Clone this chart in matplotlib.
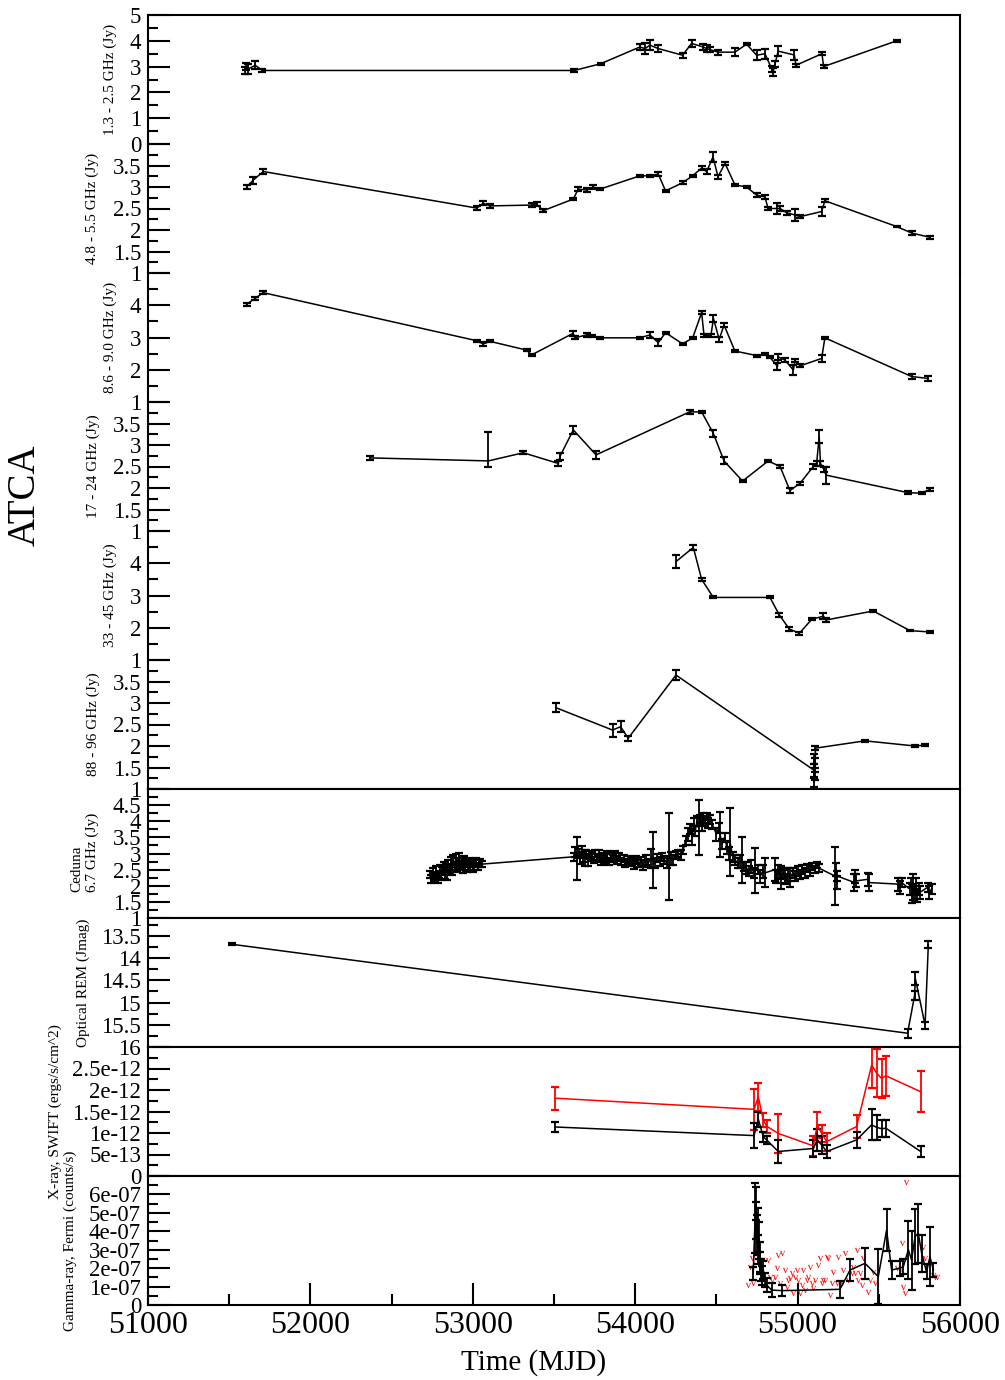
import matplotlib
matplotlib.use('Agg')
import matplotlib.pyplot as plt
from matplotlib.ticker import MultipleLocator, FixedLocator

plt.rcParams['font.family'] = ['Liberation Serif', 'DejaVu Serif']
plt.rcParams['mathtext.fontset'] = 'custom'
plt.rcParams['mathtext.rm'] = 'Liberation Serif'

# ---------------- data ----------------
# ATCA 1.3-2.5 GHz
p1_mjd = [51595, 51605, 51615, 51660, 51705, 53625, 53787, 54029, 54060, 54091, 54141, 54292, 54347,
          54418, 54440, 54460, 54510, 54614, 54686, 54748, 54799, 54840, 54850, 54861, 54880, 54980,
          54990, 55150, 55160, 55610]
p1_flux = [2.85, 3.0, 2.9, 3.05, 2.85, 2.85, 3.11, 3.76, 3.7, 3.83, 3.7, 3.44, 3.9, 3.76, 3.7, 3.66,
           3.56, 3.56, 3.87, 3.44, 3.5, 2.92, 2.8, 3.1, 3.6, 3.45, 3.05, 3.5, 3.0, 4.0]
p1_err = [0.15, 0.15, 0.2, 0.15, 0.05, 0.04, 0.04, 0.12, 0.2, 0.2, 0.15, 0.1, 0.15, 0.1, 0.12, 0.1,
          0.1, 0.15, 0.04, 0.2, 0.2, 0.12, 0.15, 0.1, 0.2, 0.2, 0.05, 0.05, 0.05, 0.03]

# ATCA 4.8-5.5 GHz
p2_mjd = [51607, 51648, 51710, 53024, 53065, 53105, 53362, 53393, 53434, 53619, 53649, 53701, 53742,
          53783, 54029, 54091, 54142, 54187, 54292, 54353, 54409, 54440, 54479, 54510, 54553, 54614,
          54686, 54748, 54799, 54818, 54871, 54892, 54933, 54984, 55015, 55148, 55168, 55610, 55702, 55815]
p2_flux = [3.0, 3.16, 3.36, 2.51, 2.62, 2.56, 2.58, 2.6, 2.45, 2.72, 2.95, 2.93, 3.0, 2.95, 3.26, 3.26,
           3.3, 2.91, 3.1, 3.26, 3.44, 3.36, 3.7, 3.24, 3.55, 3.05, 3.0, 2.81, 2.77, 2.5, 2.5, 2.5,
           2.4, 2.35, 2.31, 2.43, 2.68, 2.08, 1.93, 1.83]
p2_err = [0.05, 0.08, 0.05, 0.04, 0.05, 0.04, 0.04, 0.04, 0.03, 0.03, 0.05, 0.05, 0.04, 0.03, 0.03,
          0.03, 0.04, 0.03, 0.03, 0.03, 0.05, 0.05, 0.12, 0.05, 0.04, 0.03, 0.03, 0.04, 0.05, 0.04,
          0.12, 0.05, 0.04, 0.15, 0.04, 0.1, 0.03, 0.02, 0.05, 0.03]

# ATCA 8.6-9.0 GHz
p3_mjd = [51607, 51659, 51710, 53024, 53065, 53106, 53331, 53362, 53618, 53629, 53701, 53732, 53783,
          54029, 54091, 54142, 54187, 54292, 54354, 54409, 54424, 54466, 54482, 54517, 54547, 54614,
          54748, 54799, 54830, 54876, 54881, 54922, 54974, 54984, 55015, 55148, 55168, 55702, 55804]
p3_flux = [4.03, 4.21, 4.39, 2.9, 2.8, 2.88, 2.61, 2.46, 3.13, 2.99, 3.08, 3.05, 2.99, 2.99, 3.08, 2.84,
           3.15, 2.8, 2.99, 3.77, 3.06, 3.06, 3.59, 2.94, 3.39, 2.58, 2.44, 2.49, 2.39, 2.1, 2.4, 2.3,
           1.99, 2.28, 2.12, 2.35, 2.99, 1.79, 1.73]
p3_err = [0.05, 0.05, 0.05, 0.03, 0.05, 0.03, 0.03, 0.03, 0.08, 0.05, 0.05, 0.04, 0.03, 0.03, 0.08,
          0.1, 0.03, 0.03, 0.03, 0.05, 0.04, 0.04, 0.1, 0.08, 0.05, 0.03, 0.03, 0.04, 0.04, 0.1, 0.1,
          0.05, 0.15, 0.05, 0.05, 0.12, 0.04, 0.08, 0.08]

# ATCA 17-24 GHz
p4_mjd = [52367, 53096, 53311, 53527, 53537, 53619, 53759, 54335, 54409, 54481, 54547, 54661, 54819,
          54892, 54953, 55015, 55097, 55117, 55133, 55141, 55162, 55175, 55682, 55764, 55815]
p4_flux = [2.7, 2.63, 2.82, 2.57, 2.74, 3.35, 2.77, 3.77, 3.77, 3.27, 2.63, 2.16, 2.63, 2.5, 1.94,
           2.11, 2.5, 2.57, 3.19, 2.57, 2.43, 2.3, 1.89, 1.88, 1.97]
p4_elo = [0.05, 0.13, 0.03, 0.05, 0.08, 0.1, 0.1, 0.04, 0.03, 0.08, 0.08, 0.03, 0.03, 0.03, 0.06,
          0.03, 0.05, 0.05, 0.15, 0.05, 0.05, 0.2, 0.03, 0.03, 0.03]
p4_ehi = [0.05, 0.67, 0.03, 0.05, 0.08, 0.1, 0.1, 0.04, 0.03, 0.08, 0.08, 0.03, 0.03, 0.03, 0.06,
          0.03, 0.05, 0.05, 0.15, 0.05, 0.05, 0.2, 0.03, 0.03, 0.03]

# ATCA 33-45 GHz
p5_mjd = [54251, 54358, 54409, 54481, 54830, 54887, 54949, 55011, 55087, 55159, 55175, 55466, 55692, 55815]
p5_flux = [4.05, 4.49, 3.5, 2.94, 2.94, 2.4, 1.96, 1.83, 2.26, 2.36, 2.24, 2.52, 1.91, 1.87]
p5_err = [0.2, 0.08, 0.05, 0.03, 0.03, 0.06, 0.05, 0.04, 0.03, 0.1, 0.05, 0.02, 0.02, 0.02]

# ATCA 88-96 GHz
p6_mjd = [53512, 53861, 53910, 53957, 54251, 55100, 55102, 55104, 55106, 55108, 55110, 55415, 55723, 55785]
p6_flux = [2.89, 2.37, 2.45, 2.18, 3.65, 1.44, 1.15, 1.7, 1.3, 1.6, 1.95, 2.12, 2.0, 2.02]
p6_err = [0.1, 0.15, 0.12, 0.06, 0.12, 0.15, 0.1, 0.12, 0.1, 0.12, 0.05, 0.02, 0.03, 0.03]

# Ceduna 6.7 GHz
ced_mjd = [52736, 52745, 52752, 52760, 52768, 52775, 52783, 52790, 52798, 52805, 52812, 52820, 52828,
           52835, 52843, 52850, 52858, 52866, 52873, 52880, 52888, 52895, 52903, 52910, 52918, 52925,
           52933, 52940, 52948, 52955, 52963, 52970, 52978, 52985, 52993, 53000, 53010, 53020, 53030,
           53042, 53055,
           53625, 53632, 53644, 53652, 53660, 53670, 53680, 53690, 53700, 53712, 53722, 53735, 53745,
           53755, 53765, 53778, 53790, 53800, 53812, 53825, 53838, 53850, 53862, 53875, 53888, 53900,
           53915, 53928, 53940, 53955, 53968, 53980, 53995, 54008, 54020, 54035, 54050, 54065, 54080,
           54095, 54107, 54120, 54135, 54150, 54165, 54180, 54195, 54208, 54220, 54235, 54250, 54265,
           54280, 54295,
           54310, 54325, 54340, 54350, 54360, 54370, 54380, 54390, 54400, 54410, 54420, 54430, 54440,
           54450, 54460, 54475, 54500, 54515, 54522, 54535, 54550, 54565, 54580, 54584, 54600, 54615,
           54630, 54645, 54655, 54670, 54685, 54700, 54715, 54730, 54740, 54755, 54770, 54785, 54800,
           54860, 54870, 54880, 54890, 54900, 54910, 54920, 54930, 54940, 54955, 54970, 54985, 55000,
           55015, 55030, 55045, 55060, 55075, 55090, 55105, 55120, 55130,
           55230, 55235, 55240, 55245, 55350, 55355, 55360, 55432, 55438,
           55620, 55630, 55640, 55690, 55700, 55705, 55712, 55720, 55728, 55735, 55745, 55755,
           55800, 55812, 55825]
ced_flux = [2.35, 2.2, 2.4, 2.3, 2.25, 2.45, 2.2, 2.35, 2.5, 2.3, 2.45, 2.6, 2.4, 2.55, 2.3, 2.65,
            2.5, 2.75, 2.45, 2.8, 2.6, 2.85, 2.55, 2.7, 2.9, 2.6, 2.75, 2.5, 2.8, 2.65, 2.7, 2.55,
            2.75, 2.6, 2.7, 2.55, 2.65, 2.75, 2.6, 2.7, 2.67,
            2.9, 3.05, 2.85, 3.0, 2.8, 3.1, 2.9, 2.85, 3.0, 2.8, 2.95, 2.9, 2.8, 3.0, 2.85, 2.95, 2.8,
            2.9, 2.85, 2.95, 2.75, 2.9, 2.85, 2.95, 2.8, 2.9, 2.75, 2.85, 2.7, 2.8, 2.7, 2.75, 2.65,
            2.8, 2.7, 2.75, 2.65, 2.8, 2.7, 2.85, 2.8, 2.7, 2.85, 2.75, 2.9, 2.8, 2.7, 2.9, 2.85, 2.8,
            2.95, 3.0, 2.95, 3.1,
            3.4, 3.6, 3.75, 3.5, 3.9, 3.7, 4.0, 3.8, 4.05, 3.9, 4.1, 4.0, 4.15, 3.95, 4.05, 3.9, 3.6,
            3.8, 3.6, 3.3, 3.5, 3.2, 3.0, 3.35, 2.9, 2.8, 2.7, 2.75, 2.8, 2.6, 2.55, 2.45, 2.6, 2.4,
            2.47, 2.5, 2.3, 2.45, 2.4,
            2.5, 2.3, 2.45, 2.35, 2.25, 2.4, 2.3, 2.2, 2.35, 2.25, 2.4, 2.3, 2.45, 2.35, 2.5, 2.4, 2.55,
            2.45, 2.6, 2.5, 2.65, 2.55,
            2.3, 2.5, 2.1, 2.3, 2.1, 2.3, 2.15, 2.2, 2.1,
            2.05, 1.95, 2.1, 1.9, 2.1, 1.75, 1.95, 1.8, 2.0, 1.7, 1.9, 1.8,
            1.95, 1.8, 1.9]
ced_err = [0.12, 0.12, 0.15, 0.12, 0.12, 0.15, 0.12, 0.12, 0.15, 0.12, 0.12, 0.15, 0.18, 0.12, 0.12,
           0.15, 0.12, 0.15, 0.12, 0.15, 0.12, 0.15, 0.12, 0.15, 0.12, 0.12, 0.15, 0.12, 0.12, 0.15,
           0.12, 0.12, 0.12, 0.15, 0.12, 0.12, 0.15, 0.12, 0.12, 0.12, 0.1,
           0.12, 0.15, 0.67, 0.15, 0.12, 0.12, 0.15, 0.25, 0.12, 0.2, 0.12, 0.12, 0.1, 0.12, 0.12, 0.15,
           0.15, 0.12, 0.15, 0.12, 0.12, 0.12, 0.1, 0.12, 0.12, 0.12, 0.12, 0.1, 0.12, 0.12, 0.1, 0.12,
           0.12, 0.12, 0.12, 0.15, 0.15, 0.15, 0.12, 0.3, 0.87, 0.15, 0.12, 0.15, 0.12, 0.12, 0.15,
           1.35, 0.2, 0.15, 0.12, 0.12, 0.15, 0.12,
           0.15, 0.2, 0.15, 0.25, 0.2, 0.15, 0.15, 0.85, 0.15, 0.2, 0.15, 0.15, 0.12, 0.15, 0.15, 0.15,
           0.2, 0.15, 0.7, 0.15, 0.15, 0.2, 0.2, 1.05, 0.15, 0.15, 0.15, 0.2, 0.7, 0.15, 0.2, 0.15, 0.2,
           0.15, 0.7, 0.15, 0.2, 0.2, 0.45,
           0.35, 0.2, 0.2, 0.15, 0.35, 0.15, 0.2, 0.15, 0.2, 0.3, 0.15, 0.15, 0.15, 0.15, 0.15, 0.15,
           0.12, 0.15, 0.12, 0.12, 0.1, 0.12,
           0.9, 0.2, 0.2, 0.15, 0.25, 0.2, 0.2, 0.2, 0.25,
           0.2, 0.2, 0.15, 0.2, 0.15, 0.3, 0.4, 0.2, 0.25, 0.2, 0.2, 0.2,
           0.15, 0.2, 0.15]

# Optical REM J mag
opt_mjd = [51515, 55677, 55720, 55725, 55785, 55805]
opt_mag = [13.69, 15.69, 14.85, 14.46, 15.51, 13.7]
opt_err = [0.02, 0.1, 0.1, 0.15, 0.08, 0.08]

# X-ray SWIFT (ergs/s/cm^2)
xr_mjd = [53506, 54732, 54758, 54789, 54809, 54881, 55097, 55121, 55148, 55179, 55363, 55456, 55487,
          55517, 55544, 55758]
xr_red = [1.81e-12, 1.55e-12, 1.84e-12, 1.3e-12, 1.16e-12, 0.99e-12, 0.7e-12, 1.19e-12, 0.99e-12,
          0.8e-12, 1.15e-12, 2.58e-12, 2.39e-12, 2.27e-12, 2.33e-12, 1.96e-12]
xr_red_err = [0.27e-12, 0.47e-12, 0.33e-12, 0.17e-12, 0.15e-12, 0.45e-12, 0.23e-12, 0.3e-12, 0.2e-12,
              0.21e-12, 0.27e-12, 0.54e-12, 0.56e-12, 0.45e-12, 0.47e-12, 0.48e-12]
xr_blk = [1.14e-12, 0.94e-12, 1.32e-12, 0.91e-12, 0.84e-12, 0.57e-12, 0.64e-12, 0.84e-12, 0.72e-12,
          0.57e-12, 0.84e-12, 1.19e-12, 1.13e-12, 1.1e-12, 1.11e-12, 0.57e-12]
xr_blk_err = [0.12e-12, 0.29e-12, 0.18e-12, 0.12e-12, 0.1e-12, 0.26e-12, 0.2e-12, 0.25e-12, 0.2e-12,
              0.15e-12, 0.19e-12, 0.36e-12, 0.3e-12, 0.2e-12, 0.2e-12, 0.13e-12]

# Gamma-ray Fermi (counts/s)
g_mjd = [54727, 54738, 54742, 54746, 54750, 54754, 54758, 54762, 54766, 54770, 54775, 54780, 54789,
         54800, 54810, 54840, 54902, 55261, 55323, 55415, 55497, 55548, 55579, 55630, 55651, 55682,
         55702, 55723, 55743, 55764, 55794, 55815, 55836]
g_flux = [1.72e-7, 4.7e-7, 5.5e-7, 4.6e-7, 3.8e-7, 4.07e-7, 3.0e-7, 3.5e-7, 2.3e-7, 2.6e-7, 1.9e-7,
          1.6e-7, 1.9e-7, 1.35e-7, 1.08e-7, 0.81e-7, 0.78e-7, 0.85e-7, 1.9e-7, 2.26e-7, 1.54e-7, 4.07e-7,
          1.9e-7, 2.0e-7, 2.08e-7, 3.0e-7, 2.44e-7, 3.7e-7, 3.9e-7, 2.8e-7, 1.8e-7, 2.62e-7, 1.9e-7]
g_err = [0.36e-7, 1.9e-7, 0.9e-7, 1.0e-7, 1.1e-7, 1.2e-7, 0.8e-7, 1.0e-7, 0.6e-7, 0.8e-7, 0.6e-7,
         0.5e-7, 0.5e-7, 0.4e-7, 0.4e-7, 0.36e-7, 0.3e-7, 0.45e-7, 0.6e-7, 0.86e-7, 1.5e-7, 1.15e-7,
         0.5e-7, 0.4e-7, 0.4e-7, 1.58e-7, 1.6e-7, 1.5e-7, 1.6e-7, 1.0e-7, 0.4e-7, 1.6e-7, 0.4e-7]
ul_mjd = [54697, 54707, 54717, 54727, 54820, 54830, 54840, 54861, 54871, 54881, 54892, 54902, 54922,
          54933, 54943, 54953, 54963, 54974, 54984, 54994, 55004, 55015, 55025, 55035, 55045, 55056,
          55066, 55076, 55086, 55097, 55107, 55127, 55138, 55148, 55158, 55168, 55179, 55189, 55199,
          55209, 55220, 55240, 55250, 55271, 55281, 55291, 55312, 55332, 55342, 55353, 55363, 55373,
          55383, 55394, 55404, 55435, 55445, 55466, 55476, 55610, 55630, 55640, 55651, 55661, 55665,
          55712, 55774, 55784, 55836, 55846, 55856]
ul_flux = [1.08e-7, 2.08e-7, 2.53e-7, 1.17e-7, 2.44e-7, 1.54e-7, 1.36e-7, 1.54e-7, 1.99e-7, 2.71e-7,
           1.17e-7, 2.84e-7, 1.9e-7, 0.99e-7, 1.36e-7, 1.45e-7, 1.72e-7, 0.63e-7, 1.54e-7, 1.9e-7,
           1.36e-7, 0.63e-7, 1.08e-7, 1.9e-7, 0.81e-7, 1.36e-7, 1.54e-7, 2.08e-7, 1.17e-7, 0.9e-7,
           1.36e-7, 2.17e-7, 2.53e-7, 1.17e-7, 1.36e-7, 1.36e-7, 2.62e-7, 2.53e-7, 0.54e-7, 1.17e-7,
           1.81e-7, 1.17e-7, 2.62e-7, 1.17e-7, 1.9e-7, 2.8e-7, 1.36e-7, 1.72e-7, 2.08e-7, 1.72e-7,
           2.98e-7, 1.36e-7, 1.72e-7, 1.08e-7, 2.53e-7, 0.72e-7, 1.36e-7, 1.81e-7, 1.17e-7, 1.99e-7,
           1.9e-7, 3.34e-7, 0.99e-7, 0.63e-7, 6.69e-7, 3.16e-7, 3.16e-7, 2.53e-7, 1.63e-7, 1.54e-7, 1.54e-7]

# axis labels / tick labels
panel_labels = ['1.3 - 2.5 GHz (Jy)', '4.8 - 5.5 GHz (Jy)', '8.6 - 9.0 GHz (Jy)', '17 - 24 GHz (Jy)',
                '33 - 45 GHz (Jy)', '88 - 96 GHz (Jy)', 'Ceduna\n6.7 GHz (Jy)', 'Optical REM (Jmag)',
                'X-ray, SWIFT (ergs/s/cm^2)', 'Gamma-ray, Fermi (counts/s)']
xr_ticks = [0, 0.5e-12, 1e-12, 1.5e-12, 2e-12, 2.5e-12, 3e-12]
xr_ticklabels = ['0', '5e-13', '1e-12', '1.5e-12', '2e-12', '2.5e-12', '']
g_ticks = [0, 1e-7, 2e-7, 3e-7, 4e-7, 5e-7, 6e-7, 7e-7]
g_ticklabels = ['0', '1e-07', '2e-07', '3e-07', '4e-07', '5e-07', '6e-07', '']
x_ticks = [51000, 52000, 53000, 54000, 55000, 56000]

# ---------------- layout ----------------
FW, FH = 1005, 1380
fig = plt.figure(figsize=(FW / 100, FH / 100), dpi=100)
X0, X1, TOP, PH = 148, 960, 15, 129
LW_SP = 1.5


def make_ax(i):
    y0 = TOP + i * PH
    return fig.add_axes([X0 / FW, 1 - (y0 + PH) / FH, (X1 - X0) / FW, PH / FH])


def style(ax, ylim, major, minor, fmt=None, labels=None, ticks=None):
    ax.set_xlim(51000, 56000)
    ax.set_ylim(*ylim)
    lo, hi = min(ylim), max(ylim)
    if ticks is None:
        n = int(round((hi - lo) / major))
        ticks = [lo + k * major for k in range(n + 1)]
        labels = [fmt(t) for t in ticks]
        labels[-1] = ''
    ax.yaxis.set_major_locator(FixedLocator(ticks))
    ax.set_yticklabels(labels)
    ax.yaxis.set_minor_locator(MultipleLocator(minor))
    ax.tick_params(axis='y', which='major', direction='in', length=15.5, width=1.5,
                   labelsize=16.5, pad=5, right=False, left=True)
    ax.tick_params(axis='y', which='minor', direction='in', length=7.5, width=1.5, right=False)
    ax.tick_params(axis='x', which='both', bottom=False, top=False, labelbottom=False)
    for s in ax.spines.values():
        s.set_linewidth(LW_SP)


def gfmt(v):
    s = ('%.1f' % v).rstrip('0').rstrip('.')
    return s


eb = dict(color='black', lw=1.1, elinewidth=1.3, capsize=2.8, capthick=1.6)

atca = [
    (p1_mjd, p1_flux, p1_err, (0, 5), 1, 0.5),
    (p2_mjd, p2_flux, p2_err, (1, 4), 0.5, 0.25),
    (p3_mjd, p3_flux, p3_err, (1, 5), 1, 0.5),
    (p4_mjd, p4_flux, [p4_elo, p4_ehi], (1, 4), 0.5, 0.25),
    (p5_mjd, p5_flux, p5_err, (1, 5), 1, 0.5),
    (p6_mjd, p6_flux, p6_err, (1, 4), 0.5, 0.25),
]
axes = []
for i, (x, y, e, yl, mj, mn) in enumerate(atca):
    ax = make_ax(i)
    ax.errorbar(x, y, yerr=e, **eb)
    style(ax, yl, mj, mn, gfmt)
    if i == 0:
        labs = [gfmt(t) for t in range(0, 6)]
        ax.set_yticklabels(labs)
    ax.spines['top'].set_visible(i == 0)
    ax.spines['bottom'].set_visible(i == 5)
    ax.patch.set_alpha(0)
    axes.append(ax)

# Ceduna
ax = make_ax(6)
ax.errorbar(ced_mjd, ced_flux, yerr=ced_err, **eb)
style(ax, (1, 5), 0.5, 0.25, gfmt)
axes.append(ax)

# Optical
ax = make_ax(7)
ax.errorbar(opt_mjd, opt_mag, yerr=opt_err, **eb)
style(ax, (16, 13.1), 0.5, 0.25,
      ticks=[13.5, 14, 14.5, 15, 15.5, 16], labels=['13.5', '14', '14.5', '15', '15.5', '16'])
axes.append(ax)

# X-ray
ax = make_ax(8)
ax.errorbar(xr_mjd, xr_red, yerr=xr_red_err, **dict(eb, color='#ff0000'))
ax.errorbar(xr_mjd, xr_blk, yerr=xr_blk_err, **eb)
style(ax, (0, 3e-12), 0.5e-12, 0.25e-12, ticks=xr_ticks, labels=xr_ticklabels)
axes.append(ax)

# Gamma
ax = make_ax(9)
ax.plot(ul_mjd, ul_flux, ls='none', marker=r'$\mathrm{v}$', color='#ff0000', markersize=4,
        markeredgewidth=0)
ax.errorbar(g_mjd, g_flux, yerr=g_err, **eb)
style(ax, (0, 7e-7), 1e-7, 0.5e-7, ticks=g_ticks, labels=g_ticklabels)
ax.set_xticks(x_ticks)
ax.set_xticklabels([str(t) for t in x_ticks])
ax.xaxis.set_minor_locator(MultipleLocator(500))
ax.tick_params(axis='x', which='major', bottom=True, labelbottom=True, direction='in',
               length=16, width=1.5, labelsize=23, pad=4)
ax.tick_params(axis='x', which='minor', bottom=True, direction='in', length=8, width=1.5)
axes.append(ax)

# ---------------- text ----------------
lab_x = [110, 92, 110, 93, 110, 93, 85, 83, 55, 70]
for i, (t, lx) in enumerate(zip(panel_labels, lab_x)):
    cy = TOP + i * PH + PH / 2
    if i == 6:
        cy = 852
    fig.text(lx / FW, 1 - cy / FH, t, rotation=90, ha='center', va='center',
             fontsize=11, multialignment='left')

fig.text(25 / FW, 1 - 495 / FH, 'ATCA', rotation=90, ha='center', va='center', fontsize=28)
fig.text(534 / FW, 1 - 1363 / FH, 'Time (MJD)', ha='center', va='center', fontsize=21)

fig.savefig('out.png', dpi=100)
